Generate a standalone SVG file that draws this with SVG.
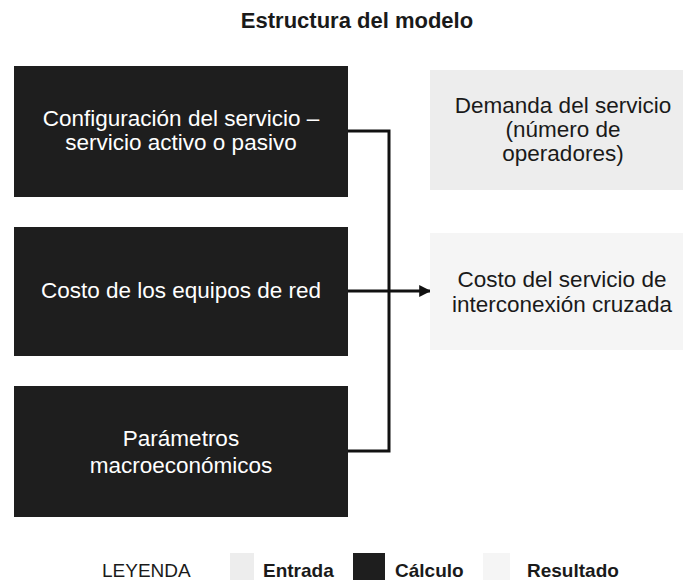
<svg xmlns="http://www.w3.org/2000/svg" width="683" height="584" viewBox="0 0 683 584">
<defs>
<style>
.calc{fill:#1e1e1e;}
.entrada{fill:#ededed;}
.resultado{fill:#f5f5f5;}
.wt{font-family:"Liberation Sans",Arial,sans-serif;font-size:22.5px;fill:#ffffff;text-anchor:middle;}
.bt{font-family:"Liberation Sans",Arial,sans-serif;font-size:22.5px;fill:#1a1a1a;text-anchor:middle;}
.title{font-family:"Liberation Sans",Arial,sans-serif;font-size:22px;font-weight:bold;fill:#1a1a1a;text-anchor:middle;}
.leg{font-family:"Liberation Sans",Arial,sans-serif;font-size:19px;fill:#1a1a1a;}
.legb{font-family:"Liberation Sans",Arial,sans-serif;font-size:19px;font-weight:bold;fill:#1a1a1a;}
.conn{stroke:#111111;stroke-width:3;fill:none;}
</style>
<marker id="arrow" viewBox="0 0 10 10" refX="9" refY="5" markerWidth="4" markerHeight="4" orient="auto" markerUnits="strokeWidth">
<path d="M0,0 L10,5 L0,10 z" fill="#111111"/>
</marker>
</defs>
<rect width="683" height="584" fill="#ffffff"/>
<text id="title" class="title" x="357" y="28">Estructura del modelo</text>

<g id="connectors">
<polyline class="conn" points="348,131 389,131 389,451 348,451"/>
<line class="conn" x1="348" y1="291" x2="430" y2="291" marker-end="url(#arrow)"/>
</g>

<g id="config">
<rect class="calc" x="14" y="66" width="334" height="131"/>
<text class="wt" x="181" y="126">Configuración del servicio –</text>
<text class="wt" x="181" y="150">servicio activo o pasivo</text>
</g>
<g id="costo-equipos">
<rect class="calc" x="14" y="227" width="334" height="129"/>
<text class="wt" x="181" y="298">Costo de los equipos de red</text>
</g>
<g id="parametros">
<rect class="calc" x="14" y="386" width="334" height="131"/>
<text class="wt" x="181" y="446">Parámetros</text>
<text class="wt" x="181" y="473">macroeconómicos</text>
</g>
<g id="demanda">
<rect class="entrada" x="430" y="70" width="253" height="120"/>
<text class="bt" x="563" y="113">Demanda del servicio</text>
<text class="bt" x="563" y="137">(número de</text>
<text class="bt" x="563" y="161">operadores)</text>
</g>
<g id="costo-servicio">
<rect class="resultado" x="430" y="233" width="253" height="117"/>
<text class="bt" x="562" y="287">Costo del servicio de</text>
<text class="bt" x="562" y="312">interconexión cruzada</text>
</g>

<g id="legend">
<text class="leg" x="102" y="577">LEYENDA</text>
<rect class="entrada" x="230" y="553" width="24" height="27"/>
<text class="legb" x="263" y="577">Entrada</text>
<rect class="calc" x="353" y="553" width="32" height="27"/>
<text class="legb" x="395" y="577">Cálculo</text>
<rect class="resultado" x="483" y="553" width="27" height="27"/>
<text class="legb" x="527" y="577">Resultado</text>
</g>
</svg>
